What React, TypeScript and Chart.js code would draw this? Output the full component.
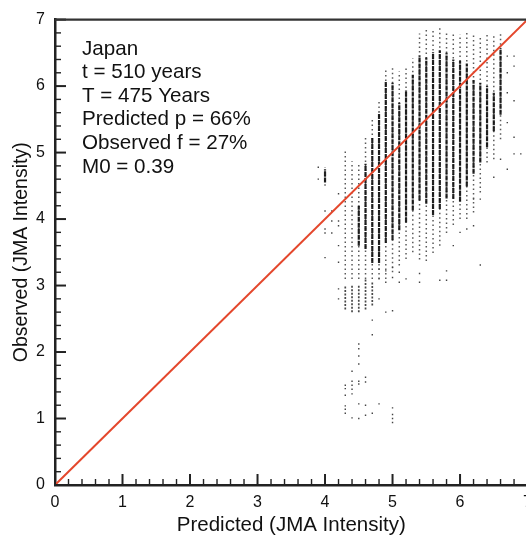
import { useEffect, useRef } from "react";
import { Chart, registerables } from "chart.js";

Chart.register(...registerables);

// ---- tick labels & annotation text ----
const xTickLabels = ["0", "1", "2", "3", "4", "5", "6", "7"];
const yTickLabels = ["0", "1", "2", "3", "4", "5", "6", "7"];
const annotationLines = [
  "Japan",
  "t = 510 years",
  "T = 475 Years",
  "Predicted p = 66%",
  "Observed f = 27%",
  "M0 = 0.39",
];

// ---- 1:1 reference line ----
const diagonalX = [0, 7];
const diagonalY = [0, 7];

// ---- predicted-intensity columns (observed ranges) ----
const colX = [4.0, 4.1, 4.2, 4.3, 4.4, 4.5, 4.6, 4.7, 4.8, 4.9, 5.0, 5.1, 5.2, 5.3, 5.4, 5.5, 5.6, 5.7, 5.8, 5.9, 6.0, 6.1, 6.2, 6.3, 6.4, 6.5, 6.6];
const sparseTop = [4.78, null, null, 5.02, 4.87, 4.83, 5.23, 5.5, 5.77, 6.27, 6.27, 6.22, 6.29, 6.42, 6.79, 6.86, 6.85, 6.89, 6.8, 6.8, 6.78, 6.8, 6.78, 6.76, 6.78, 6.76, 6.79];
const denseTop = [4.75, null, null, null, null, 4.2, 4.83, 5.23, 5.6, 6.07, 6.05, 5.75, 5.94, 6.17, 6.46, 6.43, 6.51, 6.54, 6.5, 6.4, 6.38, 6.34, 6.09, 6.05, 6.0, 5.9, 6.57];
const denseBottom = [4.55, null, null, null, null, 3.6, 3.55, 3.34, 3.34, 3.64, 3.68, 3.83, 3.95, 4.13, 4.28, 4.23, 4.06, 4.15, 4.31, 4.3, 4.26, 4.49, 4.68, 4.85, 5.08, 5.32, 5.57];
const sparseBottom = [4.5, null, null, 3.1, 3.1, 3.1, 3.1, 3.1, 3.1, 3.1, 3.2, 3.3, 3.4, 3.5, 3.39, 3.37, 3.49, 3.6, 3.79, 3.91, 4.0, 4.0, 4.1, 4.4, 4.85, 4.9, 5.2];

// lower dense cluster around intensity 3
const lowX = [4.3, 4.4, 4.5, 4.6, 4.7];
const lowTop = [3.0, 3.0, 3.02, 3.09, 3.05];
const lowBottom = [2.64, 2.6, 2.6, 2.64, 2.7];

// isolated observations
const dotX = [
  3.9, 3.9, 4.0, 4.0, 4.0, 4.0, 4.1, 4.1, 4.1, 4.2, 4.2, 4.2, 4.2, 4.2, 4.2, 4.2,
  4.8, 4.8, 4.9, 4.9, 5.0, 5.0, 5.1, 5.1, 5.2, 5.4, 5.4, 5.7, 5.8, 5.8, 4.8, 4.9, 5.0,
  4.7, 4.7, 4.5, 4.5, 4.5, 4.5, 4.5, 4.5, 4.4, 4.4, 4.4, 4.4, 4.4, 4.3, 4.3, 4.3, 4.3, 4.3, 4.3,
  4.6, 4.6, 4.5, 4.6, 4.6, 4.8, 4.7, 4.4, 4.5, 5.0, 5.0, 5.0, 5.0,
  6.7, 6.7, 6.7, 6.7, 6.8, 6.8, 6.8, 6.8, 6.8, 6.9, 6.7, 6.5, 6.6, 6.3, 6.3, 6.2, 6.1, 6.2, 6.0, 5.9,
];
const dotY = [
  4.78, 4.6, 4.12, 3.85, 3.79, 3.42, 4.12, 3.97, 3.79, 4.38, 3.97, 3.9, 3.6, 3.35, 2.95, 2.8,
  3.25, 3.1, 3.22, 3.05, 3.27, 3.12, 3.2, 3.05, 3.1, 3.18, 3.05, 3.08, 3.22, 3.08, 2.8, 2.6, 2.62,
  2.48, 2.26, 2.12, 2.05, 1.94, 1.82, 1.56, 1.52, 1.71, 1.56, 1.5, 1.44, 1.37, 1.5, 1.45, 1.35, 1.19, 1.14, 1.08,
  1.62, 1.55, 1.22, 1.2, 1.05, 1.22, 1.08, 1.01, 1.0, 1.16, 1.06, 1.0, 0.94,
  6.45, 6.2, 5.9, 5.45, 6.45, 6.3, 5.78, 5.23, 4.98, 4.98, 4.75, 4.63, 4.9, 3.31, 4.3, 4.3, 3.85, 3.9, 3.8, 3.6,
];

type Pt = { x: number; y: number | null };
function segments(xs: number[], lo: (number | null)[], hi: (number | null)[]): Pt[] {
  const out: Pt[] = [];
  xs.forEach((x, i) => {
    const a = lo[i];
    const b = hi[i];
    if (a == null || b == null) return;
    out.push({ x, y: a }, { x, y: b }, { x, y: null });
  });
  return out;
}

const FONT = '"Liberation Sans", Arial, Helvetica, sans-serif';

const decorPlugin = {
  id: "decor",
  afterDatasetsDraw(chart: any) {
    const { ctx, chartArea: a, scales } = chart;
    const xs = scales.x;
    const ys = scales.y;
    ctx.save();
    ctx.strokeStyle = "#222";
    for (let i = 0; i <= 35; i++) {
      const v = i / 5;
      const major = i % 5 === 0;
      ctx.lineWidth = major ? 2 : 1.4;
      const len = major ? 11 : 6;
      const px = xs.getPixelForValue(v);
      ctx.beginPath();
      ctx.moveTo(px, a.bottom);
      ctx.lineTo(px, a.bottom - len);
      ctx.stroke();
      const py = ys.getPixelForValue(v);
      ctx.beginPath();
      ctx.moveTo(a.left, py);
      ctx.lineTo(a.left + len, py);
      ctx.stroke();
    }
    ctx.strokeStyle = "#333";
    ctx.lineWidth = 2.3;
    ctx.beginPath();
    ctx.moveTo(a.left, a.top);
    ctx.lineTo(a.right + 5, a.top);
    ctx.stroke();

    ctx.fillStyle = "#111";
    ctx.font = `20.6px ${FONT}`;
    ctx.textBaseline = "alphabetic";
    ctx.textAlign = "left";
    annotationLines.forEach((t, i) => {
      ctx.fillText(t, a.left + 27, a.top + 35 + i * 23.6);
    });
    ctx.restore();
  },
};

export default function App() {
  const ref = useRef<HTMLCanvasElement | null>(null);

  useEffect(() => {
    if (!ref.current) return;
    const chart = new Chart(ref.current, {
      type: "scatter",
      data: {
        datasets: [
          {
            label: "1:1",
            data: diagonalX.map((x, i) => ({ x, y: diagonalY[i] })),
            showLine: true,
            borderColor: "#e4472c",
            borderWidth: 2,
            pointRadius: 0,
          },
          {
            label: "dots",
            data: dotX.map((x, i) => ({ x, y: dotY[i] })),
            pointRadius: 1,
            pointStyle: "rect",
            backgroundColor: "#444",
            borderWidth: 0,
          },
          {
            label: "dense",
            data: segments(colX, denseBottom, denseTop),
            showLine: true,
            spanGaps: false,
            borderColor: "rgba(15,15,15,0.92)",
            borderWidth: 2.2,
            borderDash: [5, 1],
            pointRadius: 0,
          },
          {
            label: "denseLow",
            data: segments(lowX, lowBottom, lowTop),
            showLine: true,
            spanGaps: false,
            borderColor: "rgba(40,40,40,0.85)",
            borderWidth: 1.7,
            borderDash: [2, 1.5],
            pointRadius: 0,
          },
          {
            label: "sparse",
            data: segments(colX, sparseBottom, sparseTop),
            showLine: true,
            spanGaps: false,
            borderColor: "rgba(60,60,60,0.85)",
            borderWidth: 1.5,
            borderDash: [1.5, 3],
            pointRadius: 0,
          },
        ],
      },
      options: {
        animation: false,
        responsive: false,
        events: [],
        layout: { padding: { top: 14.5, right: 12, left: 0, bottom: 0 } },
        plugins: { legend: { display: false }, tooltip: { enabled: false } },
        scales: {
          x: {
            type: "linear",
            min: 0,
            max: 7,
            grid: { display: false, drawTicks: false },
            border: { display: true, color: "#222", width: 2.5 },
            ticks: {
              stepSize: 1,
              padding: 8,
              color: "#111",
              font: { family: FONT, size: 16 },
              callback: (v: any) => xTickLabels[Math.round(Number(v))] ?? "",
            },
            title: {
              display: true,
              text: "Predicted (JMA Intensity)",
              color: "#111",
              font: { family: FONT, size: 20.5, lineHeight: 1.1 },
              padding: { top: 0, bottom: 0 },
            },
            afterFit: (s: any) => {
              s.height = 52;
            },
          },
          y: {
            type: "linear",
            min: 0,
            max: 7,
            grid: { display: false, drawTicks: false },
            border: { display: true, color: "#222", width: 2.5 },
            ticks: {
              stepSize: 1,
              padding: 10,
              color: "#111",
              font: { family: FONT, size: 16 },
              callback: (v: any) => yTickLabels[Math.round(Number(v))] ?? "",
            },
            title: {
              display: true,
              text: "Observed (JMA Intensity)",
              color: "#111",
              font: { family: FONT, size: 19.5, lineHeight: 1.2 },
              padding: { top: 10, bottom: 0 },
            },
            afterFit: (s: any) => {
              s.width = 55;
            },
          },
        },
      },
      plugins: [decorPlugin],
    });
    return () => chart.destroy();
  }, []);

  return (
    <div
      style={{
        position: "absolute",
        left: 0,
        top: 0,
        width: 526,
        height: 537,
        overflow: "hidden",
        background: "#fff",
      }}
    >
      <canvas ref={ref} width={540} height={537} style={{ width: 540, height: 537, display: "block" }} />
    </div>
  );
}
